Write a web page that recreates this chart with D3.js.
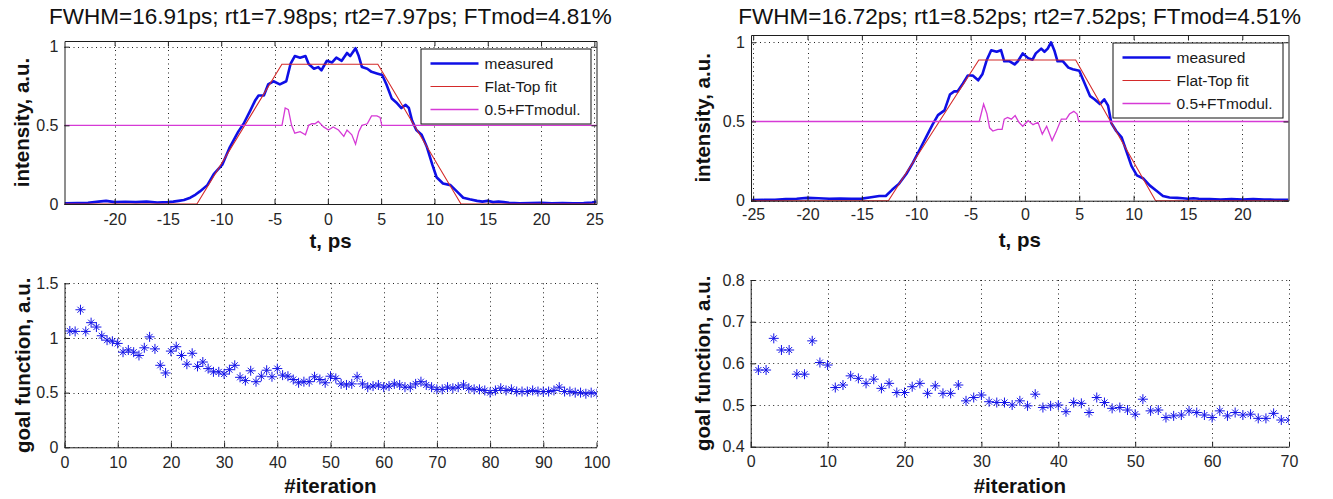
<!DOCTYPE html>
<html>
<head>
<meta charset="utf-8">
<script src="https://cdn.jsdelivr.net/npm/d3@7"></script>
<style>
  html, body { margin: 0; padding: 0; background: #fff; }
  svg { display: block; font-family: "Liberation Sans", Arial, Helvetica, sans-serif; }
</style>
</head>
<body>
<script>
// ---- data ----
const titleA = 'FWHM=16.91ps; rt1=7.98ps; rt2=7.97ps; FTmod=4.81%';
const titleB = 'FWHM=16.72ps; rt1=8.52ps; rt2=7.52ps; FTmod=4.51%';
const legendLabels = ['measured', 'Flat-Top fit', '0.5+FTmodul.'];

const pulseTicksA = [-20, -15, -10, -5, 0, 5, 10, 15, 20, 25];
const pulseTicksB = [-25, -20, -15, -10, -5, 0, 5, 10, 15, 20];
const intensityTicks = [0, 0.5, 1];

// [t (ps), intensity]
const measuredA = [
  [-24.7, 0.004], [-23.5, 0.006], [-22.5, 0.008], [-21.5, 0.015], [-20.8, 0.02], [-20, 0.012],
  [-19, 0.014], [-18, 0.012], [-17, 0.015], [-16, 0.01], [-15, 0.012], [-14.5, 0.015],
  [-14, 0.02], [-13.5, 0.025], [-12.9, 0.04], [-12.4, 0.06], [-12, 0.08], [-11.3, 0.12],
  [-10.7, 0.19], [-9.9, 0.25], [-9.2, 0.36], [-8.4, 0.46], [-7.9, 0.51], [-7.3, 0.59],
  [-6.8, 0.66], [-6.5, 0.69], [-6.0, 0.69], [-5.6, 0.76], [-5.1, 0.78], [-4.5, 0.76],
  [-3.9, 0.78], [-3.5, 0.89], [-3.1, 0.94], [-2.6, 0.93], [-2.1, 0.94], [-1.8, 0.89],
  [-1.3, 0.86], [-0.9, 0.87], [-0.6, 0.85], [-0.1, 0.91], [0.4, 0.90], [0.8, 0.93],
  [1.3, 0.91], [1.8, 0.96], [2.1, 0.94], [2.6, 0.99], [2.9, 0.94], [3.2, 0.87],
  [3.7, 0.86], [4.1, 0.84], [4.6, 0.83], [5.1, 0.82], [5.5, 0.76], [6.0, 0.67],
  [6.5, 0.64], [6.9, 0.61], [7.3, 0.63], [7.6, 0.61], [7.9, 0.53], [8.3, 0.47],
  [8.8, 0.44], [9.3, 0.36], [9.8, 0.25], [10.2, 0.17], [10.8, 0.13], [11.5, 0.12],
  [12.1, 0.08], [12.7, 0.04], [13.3, 0.03], [14, 0.02], [14.5, 0.015], [15, 0.02],
  [15.5, 0.012], [16, 0.015], [16.5, 0.012], [17, 0.008], [18, 0.005], [19, 0.006],
  [20, 0.008], [21, 0.004], [22, 0.006], [23, 0.004], [24, 0.006], [24.8, 0.01], [25.2, 0.015]
];
const fitA = [[-24.7, 0], [-12.28, 0], [-4.31, 0.888], [4.69, 0.888], [12.49, 0], [25.2, 0]];
const modulA = [
  [-24.7, 0.5], [-4.3, 0.5], [-4.0, 0.61], [-3.7, 0.60], [-3.4, 0.50], [-3.1, 0.45],
  [-2.6, 0.46], [-2.1, 0.44], [-1.8, 0.50], [-1.5, 0.51], [-1.2, 0.51], [-0.9, 0.525],
  [-0.4, 0.49], [0.06, 0.47], [0.5, 0.49], [1.0, 0.47], [1.5, 0.43], [1.8, 0.47],
  [2.25, 0.44], [2.6, 0.38], [2.9, 0.46], [3.2, 0.50], [3.7, 0.51], [4.1, 0.56],
  [4.6, 0.56], [4.9, 0.55], [5.06, 0.5], [25.2, 0.5]
];

const measuredB = [
  [-25.2, 0.004], [-24, 0.005], [-23, 0.006], [-22, 0.01], [-21, 0.012], [-20, 0.018],
  [-19, 0.015], [-18, 0.012], [-17, 0.014], [-16, 0.012], [-15, 0.013], [-14.3, 0.02],
  [-13.4, 0.03], [-12.8, 0.03], [-12.2, 0.07], [-11.6, 0.105], [-10.9, 0.17], [-10.3, 0.24],
  [-9.7, 0.32], [-9.1, 0.40], [-8.5, 0.48], [-8.0, 0.54], [-7.4, 0.57], [-6.9, 0.67],
  [-6.5, 0.69], [-6.2, 0.69], [-5.7, 0.74], [-5.25, 0.79], [-4.8, 0.79], [-4.3, 0.76],
  [-3.9, 0.80], [-3.5, 0.89], [-3.1, 0.95], [-2.6, 0.94], [-2.2, 0.95], [-1.9, 0.88],
  [-1.4, 0.88], [-0.95, 0.86], [-0.65, 0.88], [-0.2, 0.93], [0.3, 0.90], [0.7, 0.89],
  [1.0, 0.93], [1.5, 0.96], [1.8, 0.94], [2.1, 0.96], [2.4, 1.0], [2.7, 0.95],
  [3.0, 0.88], [3.5, 0.88], [4.0, 0.84], [4.4, 0.83], [5.0, 0.82], [5.5, 0.74],
  [6.0, 0.66], [6.4, 0.64], [6.9, 0.61], [7.3, 0.64], [7.65, 0.60], [7.95, 0.49],
  [8.4, 0.44], [8.9, 0.40], [9.3, 0.32], [9.8, 0.22], [10.3, 0.16], [10.9, 0.14],
  [11.5, 0.095], [12.1, 0.063], [12.7, 0.03], [13.3, 0.02], [14, 0.018], [14.5, 0.015],
  [15, 0.012], [15.5, 0.015], [16, 0.012], [17, 0.01], [18, 0.008], [19, 0.01],
  [20, 0.007], [21, 0.01], [22, 0.008], [23, 0.006], [24.25, 0.005]
];
const fitB = [[-25.2, 0], [-12.56, 0], [-4.24, 0.888], [4.67, 0.888], [12.02, 0], [24.25, 0]];
const modulB = [
  [-25.2, 0.5], [-4.2, 0.5], [-3.8, 0.61], [-3.5, 0.55], [-3.25, 0.46], [-2.95, 0.44],
  [-2.5, 0.45], [-2.1, 0.45], [-1.9, 0.515], [-1.6, 0.526], [-1.25, 0.515], [-0.9, 0.537],
  [-0.55, 0.495], [-0.2, 0.47], [0.3, 0.505], [0.75, 0.48], [1.2, 0.495], [1.6, 0.42],
  [2.0, 0.47], [2.5, 0.38], [2.9, 0.44], [3.35, 0.515], [3.8, 0.515], [4.1, 0.547],
  [4.5, 0.564], [4.8, 0.547], [4.95, 0.5], [24.25, 0.5]
];

// goal function per iteration (iteration = index + 1)
const goalA = [
  1.064, 1.06, 1.258, 1.06, 1.14, 1.10, 1.02, 0.98, 0.97, 0.95,
  0.87, 0.89, 0.87, 0.84, 0.91, 1.01, 0.90, 0.75, 0.68, 0.88,
  0.92, 0.84, 0.76, 0.86, 0.74, 0.78, 0.72, 0.69, 0.69, 0.67,
  0.71, 0.75, 0.64, 0.61, 0.70, 0.60, 0.65, 0.705, 0.645, 0.72,
  0.66, 0.65, 0.62, 0.59, 0.60, 0.60, 0.645, 0.62, 0.59, 0.65,
  0.63, 0.58, 0.57, 0.58, 0.645, 0.58, 0.55, 0.56, 0.57, 0.55,
  0.56, 0.58, 0.57, 0.55, 0.55, 0.58, 0.60, 0.57, 0.55, 0.53,
  0.53, 0.55, 0.54, 0.55, 0.57, 0.54, 0.53, 0.53, 0.52, 0.50,
  0.52, 0.54, 0.52, 0.53, 0.51, 0.51, 0.51, 0.52, 0.51, 0.51,
  0.51, 0.52, 0.55, 0.51, 0.51, 0.50, 0.50, 0.49, 0.50, 0.49
];
const goalB = [
  0.584, 0.584, 0.66, 0.632, 0.632, 0.574, 0.574, 0.654, 0.602, 0.596,
  0.542, 0.548, 0.57, 0.564, 0.552, 0.562, 0.54, 0.552, 0.53, 0.53,
  0.544, 0.552, 0.528, 0.546, 0.528, 0.528, 0.548, 0.51, 0.518, 0.524,
  0.508, 0.506, 0.506, 0.50, 0.51, 0.498, 0.526, 0.494, 0.498, 0.50,
  0.484, 0.506, 0.504, 0.482, 0.518, 0.506, 0.492, 0.494, 0.488, 0.478,
  0.514, 0.486, 0.488, 0.47, 0.474, 0.476, 0.486, 0.482, 0.476, 0.47,
  0.486, 0.474, 0.482, 0.476, 0.478, 0.468, 0.468, 0.48, 0.464, 0.464
];
const iterTicksA = [0, 10, 20, 30, 40, 50, 60, 70, 80, 90, 100];
const iterTicksB = [0, 10, 20, 30, 40, 50, 60, 70];
const goalTicksA = [0, 0.5, 1, 1.5];
const goalTicksB = [0.4, 0.5, 0.6, 0.7, 0.8];

// ---- drawing ----
const COLORS = { measured: '#0f0fe6', fit: '#d42a2a', modul: '#d63ad6', star: '#1414e8', axis: '#1e1e1e' };
const fmt = (d) => String(d);

const svg = d3.select('body').append('svg')
  .attr('width', 1333)
  .attr('height', 499);

let clipId = 0;

function frame(cfg) {
  const { left, right, top, bottom } = cfg.box;
  const x = d3.scaleLinear().domain(cfg.xDomain).range([left, right]);
  const y = d3.scaleLinear().domain(cfg.yDomain).range([bottom, top]);
  const g = svg.append('g');

  g.append('rect')
    .attr('x', left).attr('y', top)
    .attr('width', right - left).attr('height', bottom - top)
    .attr('fill', '#fff');

  // dotted grid
  const grid = g.append('g')
    .attr('stroke', '#222')
    .attr('stroke-width', 1)
    .attr('stroke-dasharray', '1,3.5');
  grid.selectAll('.gx').data(cfg.xTicks).join('line')
    .attr('class', 'gx')
    .attr('x1', (d) => Math.round(x(d)) + 0.5).attr('x2', (d) => Math.round(x(d)) + 0.5)
    .attr('y1', top).attr('y2', bottom);
  grid.selectAll('.gy').data(cfg.yTicks).join('line')
    .attr('class', 'gy')
    .attr('y1', (d) => Math.round(y(d)) + 0.5).attr('y2', (d) => Math.round(y(d)) + 0.5)
    .attr('x1', left).attr('x2', right);

  const id = 'clip' + (clipId++);
  svg.append('clipPath').attr('id', id)
    .append('rect')
    .attr('x', left).attr('y', top - 1)
    .attr('width', right - left).attr('height', bottom - top + 2);
  const plot = g.append('g').attr('clip-path', `url(#${id})`);

  const styleAxis = (sel) => {
    sel.attr('font-family', null)
      .attr('font-size', 16)
      .style('color', COLORS.axis);
    sel.selectAll('text').attr('fill', '#262626');
  };

  g.append('g')
    .attr('transform', `translate(0,${bottom})`)
    .call(d3.axisBottom(x).tickValues(cfg.xTicks).tickFormat(fmt)
      .tickSizeInner(-5).tickSizeOuter(0).tickPadding(cfg.xPad))
    .call(styleAxis);
  g.append('g')
    .attr('transform', `translate(${left},0)`)
    .call(d3.axisLeft(y).tickValues(cfg.yTicks).tickFormat(fmt)
      .tickSizeInner(-5).tickSizeOuter(0).tickPadding(6))
    .call(styleAxis);

  if (cfg.boxed) {
    g.append('g')
      .attr('transform', `translate(0,${top})`)
      .call(d3.axisTop(x).tickValues(cfg.xTicks).tickFormat('')
        .tickSizeInner(-5).tickSizeOuter(0))
      .call(styleAxis);
    g.append('g')
      .attr('transform', `translate(${right},0)`)
      .call(d3.axisRight(y).tickValues(cfg.yTicks).tickFormat('')
        .tickSizeInner(-5).tickSizeOuter(0))
      .call(styleAxis);
  }

  // axis labels
  const cx = (left + right) / 2;
  g.append('text')
    .attr('x', cx).attr('y', cfg.xLabelY)
    .attr('text-anchor', 'middle')
    .attr('font-size', 20.5).attr('font-weight', 'bold').attr('fill', '#111')
    .text(cfg.xLabel);
  g.append('text')
    .attr('transform', `translate(${cfg.yLabelX},${(top + bottom) / 2}) rotate(-90)`)
    .attr('text-anchor', 'middle')
    .attr('font-size', 20.5).attr('font-weight', 'bold').attr('fill', '#111')
    .text(cfg.yLabel);

  return { x, y, g, plot };
}

function pulsePanel(cfg) {
  const { x, y, g, plot } = frame({ ...cfg, boxed: true });
  const line = d3.line().x((d) => x(d[0])).y((d) => y(d[1]));

  plot.append('path').datum(cfg.measured)
    .attr('d', line).attr('fill', 'none')
    .attr('stroke', COLORS.measured).attr('stroke-width', 2.6)
    .attr('stroke-linejoin', 'round');
  plot.append('path').datum(cfg.fit)
    .attr('d', line).attr('fill', 'none')
    .attr('stroke', COLORS.fit).attr('stroke-width', 1.1);
  plot.append('path').datum(cfg.modul)
    .attr('d', line).attr('fill', 'none')
    .attr('stroke', COLORS.modul).attr('stroke-width', 1.3);

  // title
  svg.append('text')
    .attr('x', (cfg.box.left + cfg.box.right) / 2)
    .attr('y', cfg.titleY)
    .attr('text-anchor', 'middle')
    .attr('font-size', 22.5).attr('fill', '#111')
    .text(cfg.title);

  // legend
  const lw = 170, lh = 75;
  const lx = cfg.box.right - lw - 6;
  const ly = cfg.box.top + 7.5;
  const leg = g.append('g').attr('transform', `translate(${lx},${ly})`);
  leg.append('rect')
    .attr('x', 0.5).attr('y', 0.5).attr('width', lw).attr('height', lh)
    .attr('fill', '#fff').attr('stroke', '#111').attr('stroke-width', 1);
  const swatches = [
    { c: COLORS.measured, w: 2.6 },
    { c: COLORS.fit, w: 1.1 },
    { c: COLORS.modul, w: 1.3 },
  ];
  const rows = leg.selectAll('.row').data(legendLabels).join('g')
    .attr('class', 'row')
    .attr('transform', (d, i) => `translate(0,${15 + i * 23})`);
  rows.append('line')
    .attr('x1', 10).attr('x2', 58).attr('y1', 0).attr('y2', 0)
    .attr('stroke', (d, i) => swatches[i].c)
    .attr('stroke-width', (d, i) => swatches[i].w);
  rows.append('text')
    .attr('x', 64).attr('y', 5.5)
    .attr('font-size', 15.5).attr('fill', '#1a1a1a')
    .text((d) => d);
}

function goalPanel(cfg) {
  const { x, y, plot } = frame({ ...cfg, boxed: false });
  // MATLAB '*' marker: plus with a smaller cross
  const star = 'M-5,0H5M0,-5V5M-3,-3L3,3M-3,3L3,-3';
  plot.selectAll('.star').data(cfg.values).join('path')
    .attr('class', 'star')
    .attr('transform', (d, i) => `translate(${x(i + 1)},${y(d)})`)
    .attr('d', star)
    .attr('fill', 'none')
    .attr('stroke', COLORS.star)
    .attr('stroke-width', 1);
}

pulsePanel({
  box: { left: 64.5, right: 596.5, top: 41, bottom: 204 },
  xDomain: [-24.7, 25.2], yDomain: [0, 1.036],
  xTicks: pulseTicksA, yTicks: intensityTicks, xPad: 9.5,
  xLabel: 't, ps', xLabelY: 248, yLabel: 'intensity, a.u.', yLabelX: 29,
  title: titleA, titleY: 24,
  measured: measuredA, fit: fitA, modul: modulA,
});

pulsePanel({
  box: { left: 751, right: 1288.5, top: 35, bottom: 200.7 },
  xDomain: [-25.2, 24.25], yDomain: [0, 1.046],
  xTicks: pulseTicksB, yTicks: intensityTicks, xPad: 8,
  xLabel: 't, ps', xLabelY: 247, yLabel: 'intensity, a.u.', yLabelX: 710,
  title: titleB, titleY: 24,
  measured: measuredB, fit: fitB, modul: modulB,
});

goalPanel({
  box: { left: 64.5, right: 596.5, top: 283.3, bottom: 447.3 },
  xDomain: [0, 100], yDomain: [0, 1.5],
  xTicks: iterTicksA, yTicks: goalTicksA, xPad: 9.5,
  xLabel: '#iteration', xLabelY: 493, yLabel: 'goal function, a.u.', yLabelX: 30,
  values: goalA,
});

goalPanel({
  box: { left: 750.7, right: 1289, top: 280, bottom: 446.7 },
  xDomain: [0, 70], yDomain: [0.4, 0.8],
  xTicks: iterTicksB, yTicks: goalTicksB, xPad: 9,
  xLabel: '#iteration', xLabelY: 493, yLabel: 'goal function, a.u.', yLabelX: 710,
  values: goalB,
});
</script>
</body>
</html>
